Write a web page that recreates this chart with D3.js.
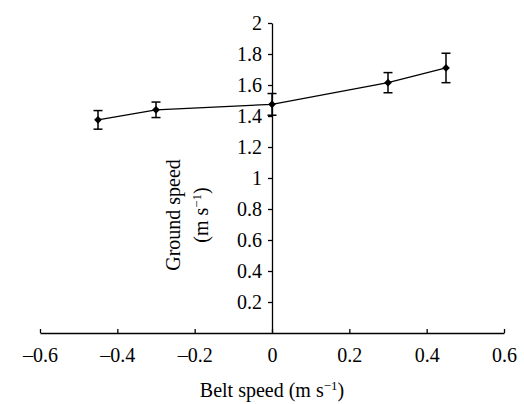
<!DOCTYPE html>
<html>
<head>
<meta charset="utf-8">
<script src="https://cdn.jsdelivr.net/npm/d3@7"></script>
<style>
  html, body { margin: 0; padding: 0; background: #fff; }
  svg { display: block; }
</style>
</head>
<body>
<svg id="chart" width="524" height="404"></svg>
<script>
// Data
const beltSpeed = [-0.45, -0.3, 0, 0.3, 0.45];
const groundSpeed = [1.375, 1.44, 1.475, 1.615, 1.71];
const errorSE = [0.06, 0.05, 0.07, 0.065, 0.095];
const xTickValues = [-0.6, -0.4, -0.2, 0, 0.2, 0.4, 0.6];
const xTickLabels = ["\u20130.6", "\u20130.4", "\u20130.2", "0", "0.2", "0.4", "0.6"];
const yTickValues = [0.2, 0.4, 0.6, 0.8, 1, 1.2, 1.4, 1.6, 1.8, 2];
const yTickLabels = ["0.2", "0.4", "0.6", "0.8", "1", "1.2", "1.4", "1.6", "1.8", "2"];

const FS = 20;

const svg = d3.select("#chart");
const x = d3.scaleLinear().domain([-0.6, 0.6]).range([40, 504]);
const y = d3.scaleLinear().domain([0, 2]).range([333, 23]);

function styleText(sel, size) {
  sel.style("font-family", "'Times New Roman'")
     .style("font-size", size + "px")
     .attr("fill", "#000");
}

// X axis
const xAxis = d3.axisBottom(x)
  .tickValues(xTickValues)
  .tickFormat((d, i) => xTickLabels[i])
  .tickSizeInner(-4).tickSizeOuter(0);
const gx = svg.append("g").attr("transform", `translate(0,${y(0)})`).call(xAxis);
gx.attr("font-family", null).attr("font-size", null);
gx.select(".domain").attr("stroke", "#000").attr("stroke-width", 1.3);
gx.selectAll(".tick line").attr("stroke", "#000").attr("stroke-width", 1.3);
gx.selectAll(".tick text").attr("y", 29).attr("dy", 0).call(styleText, FS);

// Y axis
const yAxis = d3.axisLeft(y)
  .tickValues(yTickValues)
  .tickFormat((d, i) => yTickLabels[i])
  .tickSizeInner(4).tickSizeOuter(0).tickPadding(6);
const gy = svg.append("g").attr("transform", `translate(${x(0)},0)`).call(yAxis);
gy.attr("font-family", null).attr("font-size", null);
gy.select(".domain").attr("stroke", "#000").attr("stroke-width", 1.3);
gy.selectAll(".tick line").attr("stroke", "#000").attr("stroke-width", 1.3);
gy.selectAll(".tick text").call(styleText, FS);

// Data line
const pts = beltSpeed.map((b, i) => ({ b, g: groundSpeed[i], e: errorSE[i] }));
svg.append("path")
  .datum(pts)
  .attr("fill", "none").attr("stroke", "#000").attr("stroke-width", 1.2)
  .attr("d", d3.line().x(d => x(d.b)).y(d => y(d.g)));

// Error bars
const eb = svg.append("g").attr("stroke", "#000").attr("stroke-width", 1.5);
pts.forEach(d => {
  const cx = x(d.b);
  eb.append("line").attr("x1", cx).attr("x2", cx).attr("y1", y(d.g - d.e)).attr("y2", y(d.g + d.e));
  eb.append("line").attr("x1", cx - 4.5).attr("x2", cx + 4.5).attr("y1", y(d.g + d.e)).attr("y2", y(d.g + d.e));
  eb.append("line").attr("x1", cx - 4.5).attr("x2", cx + 4.5).attr("y1", y(d.g - d.e)).attr("y2", y(d.g - d.e));
});

// Markers
svg.append("g").selectAll("path").data(pts).join("path")
  .attr("d", d3.symbol(d3.symbolSquare, 30))
  .attr("transform", d => `translate(${x(d.b)},${y(d.g)}) rotate(45)`)
  .attr("fill", "#000");

// X title
const xt = svg.append("text").attr("x", x(0)).attr("y", 397)
  .attr("text-anchor", "middle").call(styleText, FS);
xt.append("tspan").text("Belt speed (m s");
xt.append("tspan").attr("dy", -7).style("font-size", "13px").text("\u22121");
xt.append("tspan").attr("dy", 7).text(")");

// Y title (two lines, rotated)
const yt = svg.append("g").attr("transform", "translate(180,215) rotate(-90)");
yt.append("text").attr("x", 0).attr("y", 0).attr("text-anchor", "middle")
  .call(styleText, FS).text("Ground speed");
const yt2 = yt.append("text").attr("x", 0).attr("y", 28).attr("text-anchor", "middle")
  .call(styleText, FS);
yt2.append("tspan").text("(m s");
yt2.append("tspan").attr("dy", -7).style("font-size", "13px").text("\u22121");
yt2.append("tspan").attr("dy", 7).text(")");
</script>
</body>
</html>
